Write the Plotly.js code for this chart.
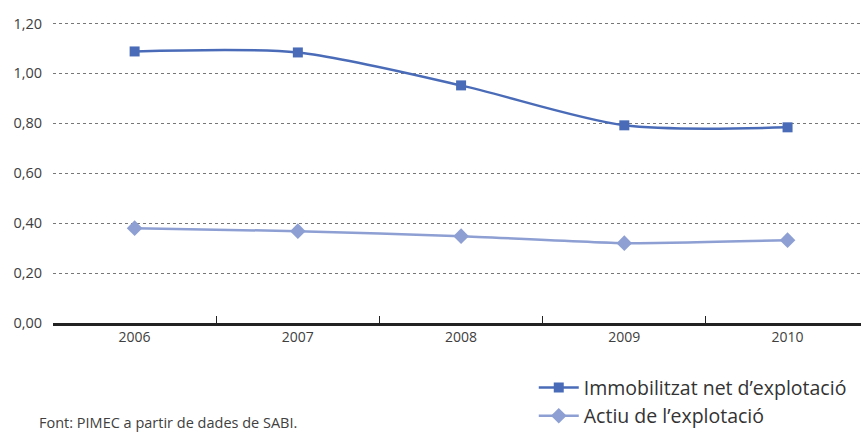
<!DOCTYPE html>
<html><head><meta charset="utf-8">
<script src="https://cdn.plot.ly/plotly-3.0.1.min.js"></script>
<style>html,body{margin:0;padding:0;background:#fff}#c{width:861px;height:439px}</style>
</head><body><div id="c"></div>
<script>
const years = ['2006','2007','2008','2009','2010'];
const immobilitzat = [1.088, 1.084, 0.952, 0.792, 0.784];
const actiu = [0.38, 0.368, 0.348, 0.32, 0.332];
const yTicks = [0, 0.2, 0.4, 0.6, 0.8, 1.0, 1.2];
const yTickText = ['0,00','0,20','0,40','0,60','0,80','1,00','1,20'];

const traces = [
  {x: years, y: immobilitzat, name: 'Immobilitzat net d’explotació', type: 'scatter', mode: 'lines+markers',
   line: {color: '#4a6cb8', width: 2.5, shape: 'spline', smoothing: 0.8}, marker: {symbol: 'square', size: 10, color: '#4a6cb8'}},
  {x: years, y: actiu, name: 'Actiu de l’explotació', type: 'scatter', mode: 'lines+markers',
   line: {color: '#8d9fd3', width: 2.5, shape: 'spline', smoothing: 0.5}, marker: {symbol: 'diamond', size: 12, color: '#8d9fd3'}}
];
const layout = {
  width: 861, height: 439,
  margin: {l: 53, r: 0, t: 20.5, b: 116},
  paper_bgcolor: '#fff', plot_bgcolor: '#fff',
  font: {family: 'Open Sans, Noto Sans, sans-serif', color: '#404040', size: 14},
  showlegend: true,
  legend: {x: 0.595, y: -0.15, xanchor: 'left', yanchor: 'top', font: {size: 19.5, color: '#333'}, bgcolor: 'rgba(0,0,0,0)', tracegroupgap: 0, itemwidth: 40},
  xaxis: {type: 'category', range: [-0.5, 4.45], showgrid: false, zeroline: false,
          showline: true, linecolor: '#222', linewidth: 2.5,
          ticks: 'inside', tickson: 'boundaries', ticklen: 7, tickcolor: '#222', tickwidth: 1,
          tickfont: {size: 14, color: '#404040'}, fixedrange: true},
  yaxis: {range: [0, 1.21], tickvals: yTicks, ticktext: yTickText, showgrid: true,
          gridcolor: '#777', griddash: '3px,3px', gridwidth: 1, zeroline: false, showline: false,
          ticks: '', ticklabelstandoff: 10, tickfont: {size: 14.5, color: '#404040'}},
  annotations: [{text: 'Font: PIMEC a partir de dades de SABI.', xref: 'paper', yref: 'paper',
    x: -0.02, y: -0.33, xanchor: 'left', yanchor: 'middle', showarrow: false, font: {size: 14.5, color: '#404040'}}]
};
Plotly.newPlot('c', traces, layout, {displayModeBar: false, staticPlot: true});
</script></body></html>
